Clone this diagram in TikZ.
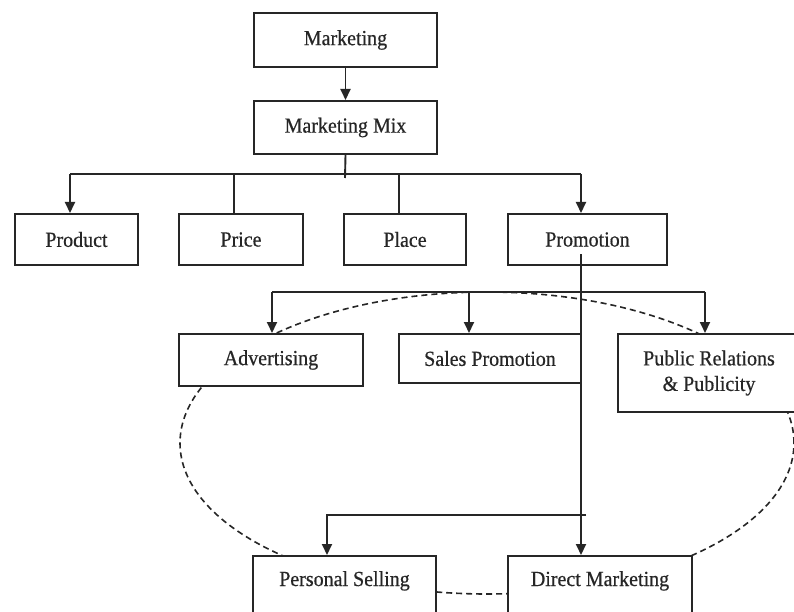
\documentclass[tikz,border=0pt]{standalone}
\usepackage{fontspec}
\setmainfont{Liberation Serif}
\newfontfamily\boxfont{Liberation Serif}[FakeStretch=0.93, FakeBold=0.5]
\usetikzlibrary{arrows.meta}
\definecolor{ink}{HTML}{262626}
\begin{document}
\begin{tikzpicture}[x=1pt,y=-1pt,
  box/.style={draw=ink, fill=white, line width=2pt, inner sep=0pt, text=ink,
    font=\boxfont\fontsize{21.5}{25.5}\selectfont, align=center},
  conn/.style={draw=ink, line width=1.9pt},
  arr/.style={conn, -{Triangle[length=11pt,width=10pt]}},
  oval/.style={draw=ink, line width=1.6pt, dash pattern=on 6pt off 4pt}]
\useasboundingbox (0,0) rectangle (794,612);
\clip (0,0) rectangle (794,612);
\fill[white] (0,0) rectangle (794,612);
\draw[oval] (487,443) ellipse [x radius=307pt, y radius=151pt];

\node[box, minimum width=183pt, minimum height=54pt] (mkt) at (345.5,40) {Marketing};
\node[box, minimum width=183pt, minimum height=53pt] (mix) at (345.5,127.5) {Marketing Mix};
\node[box, minimum width=123pt, minimum height=51pt] (product) at (76.5,239.5) {Product};
\node[box, minimum width=124pt, minimum height=51pt] (price) at (241,239.5) {Price};
\node[box, minimum width=122pt, minimum height=51pt] (place) at (405,239.5) {Place};
\node[box, minimum width=159pt, minimum height=51pt] (promo) at (587.5,239.5) {Promotion};
\node[box, minimum width=184pt, minimum height=52pt] (adv) at (271,360) {Advertising};
\node[box, minimum width=182pt, minimum height=49pt] (sales) at (490,358.5) {Sales Promotion};
\node[box, minimum width=182pt, minimum height=78pt] (pr) at (709,373) {Public Relations\\\& Publicity};
\node[box, anchor=north, minimum width=183pt, text height=30pt, text depth=60pt] (ps) at (344.5,555) {Personal Selling};
\node[box, anchor=north, minimum width=184pt, text height=30pt, text depth=60pt] (dm) at (600,555) {Direct Marketing};

% first level
\draw[arr] (mkt.south) -- (mix.south |- mix.north);
\coordinate (b0) at (345,178);
\coordinate (bL) at (70,174);
\coordinate (bR) at (581,174);
\coordinate (bP) at (234,174);
\coordinate (bQ) at (399,174);
\draw[conn] (mix.south) -- (b0);
\draw[conn] (bL) -- (bR);
\draw[arr] (bL) -- (bL |- product.north);
\draw[conn] (bP) -- (bP |- price.north);
\draw[conn] (bQ) -- (bQ |- place.north);
\draw[arr] (bR) -- (bR |- promo.north);

% promotion tools
\coordinate (v0) at (581,254);
\draw[arr] (v0) -- (v0 |- dm.north);
\coordinate (cL) at (272,292);
\coordinate (cS) at (469,292);
\coordinate (cR) at (705,292);
\draw[conn] (cL) -- (cR);
\draw[arr] (cL) -- (cL |- adv.north);
\draw[arr] (cS) -- (cS |- sales.north);
\draw[arr] (cR) -- (cR |- pr.north);
\coordinate (dL) at (327,515);
\coordinate (dR) at (586,515);
\draw[arr] (dR) -- (dL) -- (dL |- ps.north);
\end{tikzpicture}
\end{document}
